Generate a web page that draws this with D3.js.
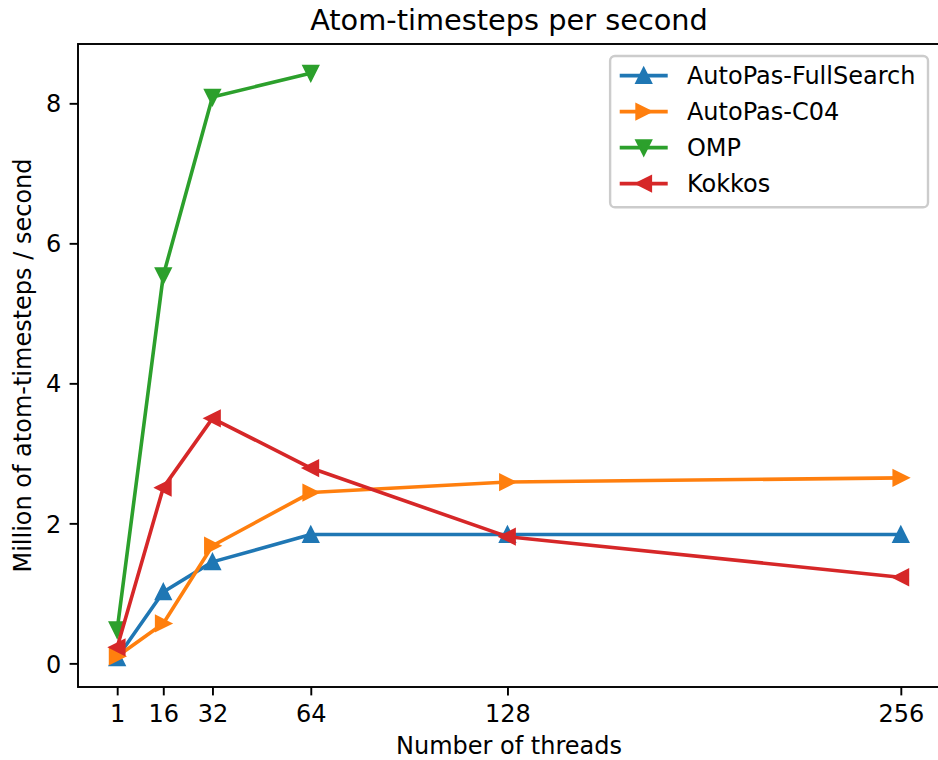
<!DOCTYPE html>
<html>
<head>
<meta charset="utf-8">
<script src="https://cdn.jsdelivr.net/npm/d3@7"></script>
<style>
	body { margin: 0; background: #fff; }
	svg { display: block; font-family: "DejaVu Sans", sans-serif; }
</style>
</head>
<body>
<div class="thegraph"></div>
<script>
var threads = [1, 16, 32, 64, 128, 256];
var xTicks = [1, 16, 32, 64, 128, 256];
var yTicks = [0, 2, 4, 6, 8];
var seriesNames = ["AutoPas-FullSearch", "AutoPas-C04", "OMP", "Kokkos"];
var fullSearch = [0.08, 1.02, 1.45, 1.84, 1.84, 1.84];
var c04 = [0.10, 0.57, 1.68, 2.44, 2.59, 2.65];
var omp = [0.48, 5.54, 8.09, 8.43];
var kokkos = [0.23, 2.51, 3.50, 2.79, 1.81, 1.23];

(function() {
	var w = 938, h = 760;
	// figure px per point (figure was saved at ~173 dpi)
	var pt = 2.4;
	var fs = 10 * pt;
	var left = 78, right = 940, top = 44, bottom = 687;

	var colors = ["#1f77b4", "#ff7f0e", "#2ca02c", "#d62728"];
	var markers = ["up", "right", "down", "left"];
	var allValues = [fullSearch, c04, omp, kokkos];

	var series = seriesNames.map(function(name, i) {
		return {
			name: name,
			color: colors[i],
			marker: markers[i],
			points: allValues[i].map(function(v, j) { return { x: threads[j], y: v }; })
		};
	});

	// matplotlib style 5% margins
	var xExt = d3.extent(threads);
	var xPad = (xExt[1] - xExt[0]) * 0.05;
	var yExt = d3.extent(d3.merge(allValues));
	var yPad = (yExt[1] - yExt[0]) * 0.05;

	var x = d3.scaleLinear()
		.domain([xExt[0] - xPad, xExt[1] + xPad])
		.range([left, right]);
	var y = d3.scaleLinear()
		.domain([yExt[0] - yPad, yExt[1] + yPad])
		.range([bottom, top]);

	var svg = d3.select(".thegraph").append("svg")
		.attr("width", w)
		.attr("height", h)
		;

	var markerPath = function(kind) {
		var s = 3 * pt; // half of 6pt marker
		if (kind === "up") return "M0," + (-s) + "L" + (-s) + "," + s + "L" + s + "," + s + "Z";
		if (kind === "down") return "M0," + s + "L" + (-s) + "," + (-s) + "L" + s + "," + (-s) + "Z";
		if (kind === "left") return "M" + (-s) + ",0L" + s + "," + (-s) + "L" + s + "," + s + "Z";
		return "M" + s + ",0L" + (-s) + "," + (-s) + "L" + (-s) + "," + s + "Z";
	};

	// axes
	var xAxis = d3.axisBottom(x)
		.tickValues(xTicks)
		.tickSize(3.5 * pt)
		.tickPadding(3.5 * pt)
		.tickFormat(d3.format("d"));
	var yAxis = d3.axisLeft(y)
		.tickValues(yTicks)
		.tickSize(3.5 * pt)
		.tickPadding(3.5 * pt)
		.tickFormat(d3.format("d"));

	var gx = svg.append("g")
		.attr("transform", "translate(0," + bottom + ")")
		.call(xAxis);
	var gy = svg.append("g")
		.attr("transform", "translate(" + left + ",0)")
		.call(yAxis);

	[gx, gy].forEach(function(g) {
		g.select(".domain").remove();
		g.selectAll(".tick line").attr("stroke", "#000").attr("stroke-width", 0.8 * pt);
		g.selectAll(".tick text")
			.attr("fill", "#000")
			.attr("font-size", fs + "px")
			.attr("font-family", "DejaVu Sans");
	});
	gx.selectAll(".tick text").attr("dy", null).attr("y", 3.5 * pt * 2 + fs * 0.76);
	gy.selectAll(".tick text").attr("dy", "0.36em");

	// lines and markers
	var line = d3.line()
		.x(function(d) { return x(d.x); })
		.y(function(d) { return y(d.y); });

	var groups = svg.selectAll("g.series")
		.data(series)
		.enter()
		.append("g")
		.attr("class", "series");

	groups.append("path")
		.attr("d", function(d) { return line(d.points); })
		.attr("fill", "none")
		.attr("stroke", function(d) { return d.color; })
		.attr("stroke-width", 1.5 * pt)
		.attr("stroke-linejoin", "round")
		.attr("stroke-linecap", "square");

	groups.each(function(s) {
		d3.select(this).selectAll("path.mk")
			.data(s.points)
			.enter()
			.append("path")
			.attr("class", "mk")
			.attr("transform", function(d) { return "translate(" + x(d.x) + "," + y(d.y) + ")"; })
			.attr("d", markerPath(s.marker))
			.attr("fill", s.color)
			.attr("stroke", s.color)
			.attr("stroke-width", 1 * pt)
			.attr("stroke-linejoin", "miter");
	});

	// spines
	svg.append("rect")
		.attr("x", left)
		.attr("y", top)
		.attr("width", right - left)
		.attr("height", bottom - top)
		.attr("fill", "none")
		.attr("stroke", "#000")
		.attr("stroke-width", 0.8 * pt);

	// title and labels
	svg.append("text")
		.text("Atom-timesteps per second")
		.attr("x", (left + right) / 2)
		.attr("y", top - 6 * pt)
		.attr("text-anchor", "middle")
		.attr("font-size", (12 * pt) + "px");

	svg.append("text")
		.text("Number of threads")
		.attr("x", (left + right) / 2)
		.attr("y", 754)
		.attr("text-anchor", "middle")
		.attr("font-size", fs + "px");

	svg.append("text")
		.text("Million of atom-timesteps / second")
		.attr("transform", "translate(31," + ((top + bottom) / 2) + ") rotate(-90)")
		.attr("text-anchor", "middle")
		.attr("font-size", fs + "px");

	// legend
	var pad = 0.4 * fs, handle = 2 * fs, textPad = 0.8 * fs, rowH = fs, gap = 0.5 * fs;
	var legend = svg.append("g");
	var box = legend.append("rect");
	var items = legend.selectAll("g.item")
		.data(series)
		.enter()
		.append("g")
		.attr("class", "item");
	items.append("text")
		.text(function(d) { return d.name; })
		.attr("font-size", fs + "px")
		.attr("dy", "0.36em");
	var textW = d3.max(items.selectAll("text").nodes(), function(n) { return n.getComputedTextLength(); });
	var legW = pad * 2 + handle + textPad + textW + 3;
	var legH = pad * 2 + series.length * rowH + (series.length - 1) * gap;
	var legX = right - 0.5 * fs - legW;
	var legY = top + 0.5 * fs;

	box.attr("x", legX)
		.attr("y", legY)
		.attr("width", legW)
		.attr("height", legH)
		.attr("rx", 0.2 * fs)
		.attr("fill", "#fff")
		.attr("fill-opacity", 0.8)
		.attr("stroke", "#cccccc")
		.attr("stroke-width", 1 * pt);

	items.attr("transform", function(d, i) {
		return "translate(" + (legX + pad) + "," + (legY + pad + i * (rowH + gap) + rowH / 2 - 2) + ")";
	});
	items.append("line")
		.attr("x1", 0)
		.attr("x2", handle)
		.attr("stroke", function(d) { return d.color; })
		.attr("stroke-width", 1.5 * pt);
	items.append("path")
		.attr("transform", "translate(" + (handle / 2) + ",0)")
		.attr("d", function(d) { return markerPath(d.marker); })
		.attr("fill", function(d) { return d.color; })
		.attr("stroke", function(d) { return d.color; })
		.attr("stroke-width", 1 * pt);
	items.select("text").attr("x", handle + textPad);
})();
</script>
</body>
</html>
